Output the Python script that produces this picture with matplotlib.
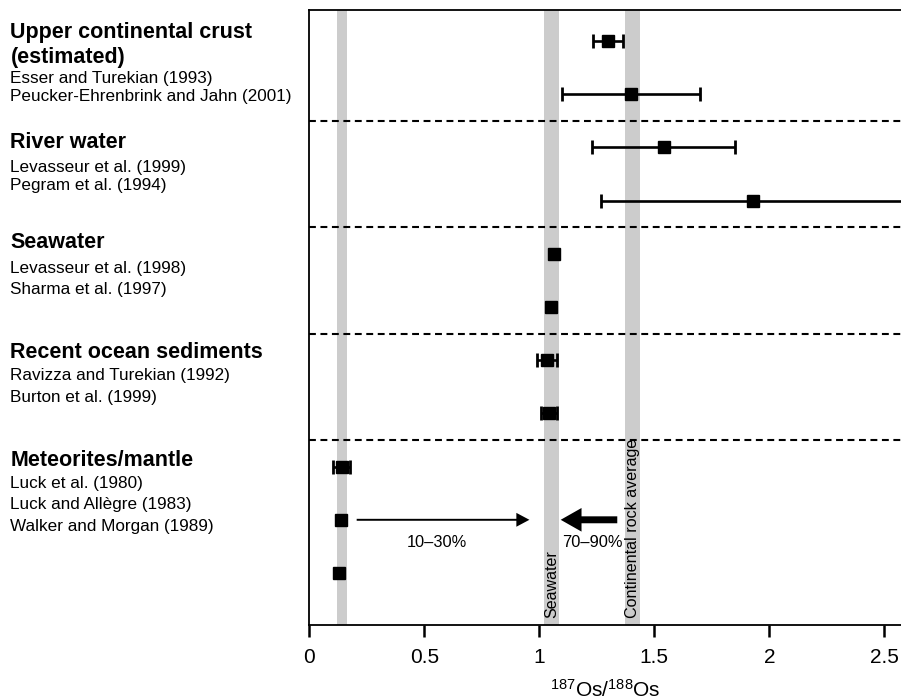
import matplotlib
matplotlib.use("Agg")
import matplotlib.pyplot as plt
from matplotlib.ticker import FixedLocator, FuncFormatter

plt.rcParams["font.family"] = ["Liberation Sans", "DejaVu Sans"]
plt.rcParams["mathtext.fontset"] = "custom"
plt.rcParams["mathtext.rm"] = "Liberation Sans"
plt.rcParams["mathtext.it"] = "Liberation Sans:italic"
plt.rcParams["mathtext.bf"] = "Liberation Sans:bold"

# ---- data -------------------------------------------------------------
group_titles = [
    "Upper continental crust\n(estimated)",
    "River water",
    "Seawater",
    "Recent ocean sediments",
    "Meteorites/mantle",
]
group_sizes = [2, 2, 2, 2, 3]

references = [
    "Esser and Turekian (1993)",
    "Peucker-Ehrenbrink and Jahn (2001)",
    "Levasseur et al. (1999)",
    "Pegram et al. (1994)",
    "Levasseur et al. (1998)",
    "Sharma et al. (1997)",
    "Ravizza and Turekian (1992)",
    "Burton et al. (1999)",
    "Luck et al. (1980)",
    "Luck and Allègre (1983)",
    "Walker and Morgan (1989)",
]
os_ratio = [1.30, 1.40, 1.54, 1.93, 1.064, 1.053, 1.035, 1.042, 0.141, 0.136, 0.130]
os_error = [0.065, 0.30, 0.31, 0.66, 0.0, 0.0, 0.043, 0.035, 0.037, 0.0, 0.0]

band_labels = ["", "Seawater", "Continental rock average"]
band_centers = [0.142, 1.055, 1.407]
band_widths = [0.040, 0.065, 0.065]

mix_labels = ["10\u201330%", "70\u201390%"]
x_ticks = [0, 0.5, 1, 1.5, 2, 2.5]

# ---- figure -----------------------------------------------------------
W, H = 901, 700
fig = plt.figure(figsize=(W / 100, H / 100), dpi=100)

ax_left, ax_right, ax_top, ax_bottom = 309.3, 901.0, 10.0, 624.7
ax = fig.add_axes([ax_left / W, 1 - ax_bottom / H,
                   (ax_right - ax_left) / W, (ax_bottom - ax_top) / H])

px_per_unit = 230.0
ax.set_xlim(0, (ax_right - ax_left) / px_per_unit)

# rows: one per reference, evenly spaced from the top
row0_px, row_px = 41.0, 53.2
ax.set_ylim((ax_bottom - row0_px) / row_px, (ax_top - row0_px) / row_px)
rows = list(range(len(references)))

# grey reference bands
for c, w in zip(band_centers, band_widths):
    ax.axvspan(c - w / 2, c + w / 2, color="#cccccc", lw=0, zorder=0)

# dashed separators between groups
edge = 0
for n in group_sizes[:-1]:
    edge += n
    ax.axhline(edge - 0.5, color="black", lw=1.5, ls=(0, (3.3, 2.2)), zorder=1)

# measurements
for r, x, e in zip(rows, os_ratio, os_error):
    if e > 0:
        ax.errorbar(x, r, xerr=e, fmt="none", ecolor="black", elinewidth=1.9,
                    capsize=4.8, capthick=2.0, zorder=3)
    ax.plot(x, r, marker="s", ms=8.3, color="black", ls="none", zorder=4)

# band labels
for lab, c in zip(band_labels, band_centers):
    if lab:
        ax.text(c, (618 - row0_px) / row_px, lab, rotation=90, ha="center",
                va="bottom", fontsize=11.6, zorder=5)

# mixing arrows: mantle -> seawater (thin), continents -> seawater (thick)
arrow_row = 9
ax.annotate("", xy=(0.957, arrow_row), xytext=(0.206, arrow_row),
            arrowprops=dict(arrowstyle="simple,head_length=0.94,head_width=1.0,tail_width=0.14",
                            fc="black", ec="black", lw=0, mutation_scale=10,
                            shrinkA=0, shrinkB=0))
ax.annotate("", xy=(1.093, arrow_row), xytext=(1.339, arrow_row),
            arrowprops=dict(arrowstyle="simple,head_length=1.5,head_width=1.7,tail_width=0.5",
                            fc="black", ec="black", lw=0, mutation_scale=10,
                            shrinkA=0, shrinkB=0))
label_row = (542.7 - row0_px) / row_px
ax.text(0.554, label_row, mix_labels[0], ha="center", va="center", fontsize=11.8)
ax.text(1.229, label_row, mix_labels[1], ha="center", va="center", fontsize=11.8)

# axes styling
for side in ("left", "bottom", "top"):
    ax.spines[side].set_linewidth(1.3)
ax.spines["right"].set_visible(False)
ax.set_yticks([])
ax.xaxis.set_major_locator(FixedLocator(x_ticks))
ax.xaxis.set_major_formatter(FuncFormatter(lambda v, p: f"{v:g}"))
ax.tick_params(axis="x", direction="out", length=8.6, width=1.8, labelsize=15, pad=8)
ax.set_xlabel(r"$^{187}$Os/$^{188}$Os", fontsize=15, labelpad=9)

# group headings and references in the left margin
heading_baselines = [[38.3, 63.0], [148.3], [248.0], [358.3], [466.0]]
ref_baselines = [[83.3, 101.0], [171.7, 190.0], [273.3, 294.0],
                 [380.0, 401.7], [488.3, 509.3, 530.7]]
text_x = 10.5 / W
k = 0
for title, hb, rb, n in zip(group_titles, heading_baselines, ref_baselines, group_sizes):
    for line, y in zip(title.split("\n"), hb):
        fig.text(text_x, 1 - y / H, line, fontsize=15.5, fontweight="bold",
                 va="baseline", ha="left")
    for y in rb:
        fig.text(text_x, 1 - y / H, references[k], fontsize=12.3,
                 va="baseline", ha="left")
        k += 1

fig.savefig("out.png", dpi=100)
